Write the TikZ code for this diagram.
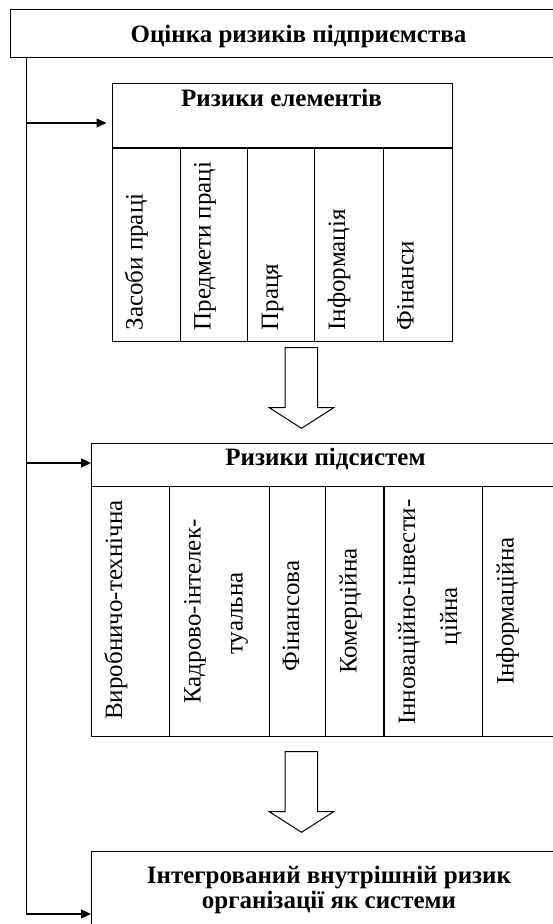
\documentclass[tikz,border=0pt]{standalone}
\usepackage{fontspec}
\setmainfont{Liberation Serif}
\usetikzlibrary{arrows.meta}
\begin{document}
\begin{tikzpicture}[x=1pt,y=-1pt,
    frame/.style={draw, line width=1.2pt, inner sep=0pt, anchor=north west},
    head/.style={font=\bfseries\fontsize{25}{25}\selectfont, inner sep=0pt, anchor=base},
    vtext/.style={font=\fontsize{25}{25}\selectfont, inner sep=0pt, rotate=90},
    link/.style={line width=1.2pt, -{Triangle[length=10pt,width=9pt]}},
    hollow/.style={draw, line width=1pt, fill=white}]
\useasboundingbox (0,0) rectangle (553,924);
\clip (0,0) rectangle (553,924);

% top block
\node (risk) at (10,8.7) [frame, line width=0.9pt, minimum width=577, minimum height=48.6] {};
\node (risktxt) at (298.5,42) [head] {Оцінка ризиків підприємства};

% element risks
\node (elhead) at (111.5,83) [frame, minimum width=340, minimum height=64.3] {};
\node (elheadtxt) at (281.5,106) [head] {Ризики елементів};
\foreach \n/\x/\w in {el1/111.5/68, el2/179.5/67.5, el3/247/67, el4/314/68.5, el5/382.5/69}
    \node (\n) at (\x,147.3) [frame, minimum width=\w, minimum height=193.7] {};
\node (el1txt) at (142.5,330.7) [vtext, anchor=base west] {Засоби праці};
\node (el2txt) at (210.5,330.7) [vtext, anchor=base west] {Предмети праці};
\node (el3txt) at (278,330.7) [vtext, anchor=base west] {Праця};
\node (el4txt) at (345,330.7) [vtext, anchor=base west] {Інформація};
\node (el5txt) at (413.5,330.7) [vtext, anchor=base west] {Фінанси};

% subsystem risks
\node (subhead) at (91,443) [frame, minimum width=469, minimum height=43] {};
\node (subheadtxt) at (325.5,465) [head] {Ризики підсистем};
\foreach \n/\x/\w in {sub1/91/77.6, sub2/168.6/100.2, sub3/268.8/56.4, sub4/325.2/58.2, sub5/383.4/98.1, sub6/481.5/78.5}
    \node (\n) at (\x,486) [frame, minimum width=\w, minimum height=250] {};
\node (sub1txt) at (122,610) [vtext, anchor=base] {Виробничо-технічна};
\node (sub2txt) at (200.5,611.5) [vtext, anchor=base] {Кадрово-інтелек-};
\node (sub2txtb) at (242.5,613.5) [vtext, anchor=base] {туальна};
\node (sub3txt) at (299,616) [vtext, anchor=base] {Фінансова};
\node (sub4txt) at (356.5,611) [vtext, anchor=base] {Комерційна};
\node (sub5txt) at (415,612) [vtext, anchor=base] {Інноваційно-інвести-};
\node (sub5txtb) at (457,616) [vtext, anchor=base] {ційна};
\node (sub6txt) at (513.5,611) [vtext, anchor=base] {Інформаційна};

% integrated risk
\node (inbox) at (91,850.7) [frame, minimum width=476, minimum height=100] {};
\node (intxt) at (329,883) [head] {Інтегрований внутрішній ризик};
\node (intxtb) at (329,908) [head] {організації як системи};

% hollow arrows
\foreach \t in {347.7,751.7}
    \draw[hollow] (285,\t) -- ++(32.7,0) -- ++(0,60) -- ++(16,0) -- ++(-32.2,20.6)
        -- ++(-32.2,-20.6) -- ++(15.7,0) -- cycle;

% trunk with branches
\coordinate (t0) at (26.3,57.3);
\coordinate (t1) at (26.3,123);
\coordinate (t2) at (26.3,463);
\coordinate (t3) at (26.3,914);
\draw[link] (t0) -- (t3) -- (inbox.west |- t3);
\draw[link, shorten >=5pt] (t1) -- (elhead.west |- t1);
\draw[link] (t2) -- (subhead.west |- t2);
\end{tikzpicture}
\end{document}
